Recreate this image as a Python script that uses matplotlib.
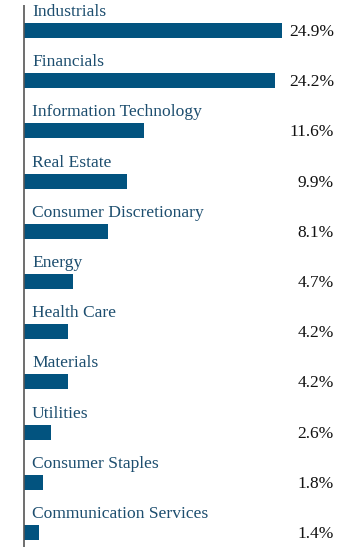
import matplotlib
matplotlib.use("Agg")
import matplotlib.pyplot as plt

categories = ["Industrials", "Financials", "Information Technology", "Real Estate",
              "Consumer Discretionary", "Energy", "Health Care", "Materials",
              "Utilities", "Consumer Staples", "Communication Services"]
values = [24.9, 24.2, 11.6, 9.9, 8.1, 4.7, 4.2, 4.2, 2.6, 1.8, 1.4]
value_labels = ["24.9%", "24.2%", "11.6%", "9.9%", "8.1%", "4.7%", "4.2%", "4.2%", "2.6%", "1.8%", "1.4%"]

W, H = 360, 547
fig = plt.figure(figsize=(W / 100, H / 100), dpi=100)
ax = fig.add_axes([24 / W, 0, 1 - 24 / W, 1])
px_per_unit = 10.36
ax.set_xlim(0, (W - 24) / px_per_unit)
row = 50.2
c0 = 30.5
ax.set_ylim((H - c0) / row, -c0 / row)
ax.axis("off")

bar_color = "#02537f"
label_color = "#1d4e6f"
font = "Liberation Serif"

y = list(range(len(categories)))
ax.barh(y, values, height=15 / row, color=bar_color, left=0)

for i, (c, v, lab) in enumerate(zip(categories, values, value_labels)):
    ax.text(8 / px_per_unit, i - 0.37, c, ha="left", va="center",
            fontsize=12.6, color=label_color, family=font)
    ax.text((334 - 24) / px_per_unit, i + 0.03, lab, ha="right", va="center",
            fontsize=12.5, color="#111111", family=font)

# vertical axis line
ax.plot([0, 0], [-25.5 / row, (H - c0) / row], color="#555555", lw=1.2,
        clip_on=False, solid_capstyle="butt")

fig.savefig("out.png", dpi=100)
